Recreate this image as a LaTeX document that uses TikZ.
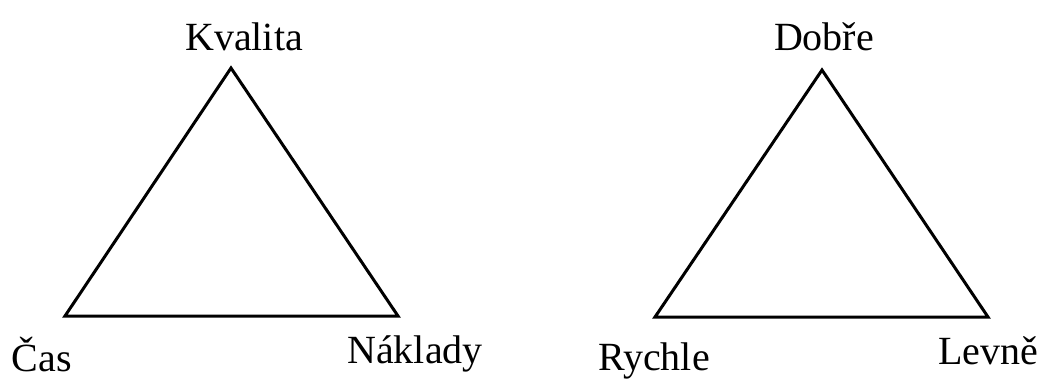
\documentclass[tikz,border=0pt]{standalone}
\usepackage{fontspec}
\setmainfont{Liberation Serif}
\begin{document}
\begin{tikzpicture}[x=1pt,y=-1pt,
  lbl/.style={anchor=base,inner sep=0pt,font=\fontsize{40}{44}\selectfont},
  tri/.style={draw=black,line width=3pt,line join=miter}]
\useasboundingbox (0,0) rectangle (1041,378);
% left triangle
\coordinate (A1) at (231,68);
\coordinate (B1) at (65,316);
\coordinate (C1) at (398,316);
\draw[tri] (A1) -- (B1) -- (C1) -- cycle;
% right triangle
\coordinate (A2) at (822,70);
\coordinate (B2) at (655,317);
\coordinate (C2) at (988,317);
\draw[tri] (A2) -- (B2) -- (C2) -- cycle;
% labels
\node[lbl] (kvalita) at (244,50) {Kvalita};
\node[lbl] (cas) at (42,371) {Čas};
\node[lbl] (naklady) at (415,363) {Náklady};
\node[lbl] (dobre) at (824,50) {Dobře};
\node[lbl] (rychle) at (654,370) {Rychle};
\node[lbl] (levne) at (988,364) {Levně};
\end{tikzpicture}
\end{document}
